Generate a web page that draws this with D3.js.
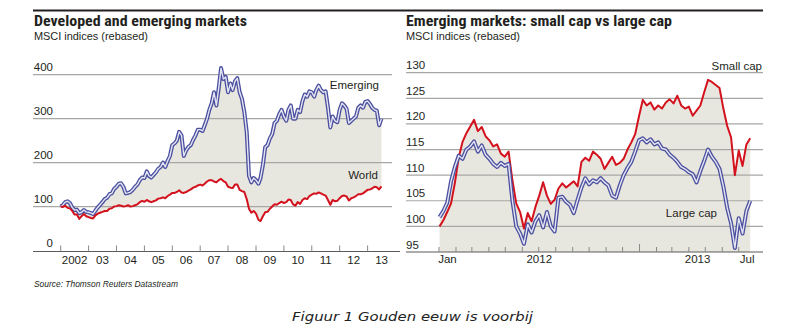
<!DOCTYPE html>
<html>
<head>
<meta charset="utf-8">
<script src="https://cdn.jsdelivr.net/npm/d3@7"></script>
<style>
  html, body { margin: 0; padding: 0; background: #ffffff; }
  svg { display: block; }
  text { fill: #231f20; }
</style>
</head>
<body>
<svg id="chart" width="794" height="329"></svg>
<script>
// ---------------- Left chart data (monthly, Jan 2002 - Jul 2013) ----------------
const leftStartYear = 2002;
const leftYearLabels = ["2002","03","04","05","06","07","08","09","10","11","12","13"];
const leftYTicks = [0, 100, 200, 300, 400];
const emerging = [
  100,104,110,112,108,98,92,93,85,87,92,88,
  87,85,83,91,98,104,110,117,120,128,130,140,
  145,152,153,145,130,131,133,138,145,150,160,166,
  165,180,170,166,172,178,186,190,200,190,204,215,
  240,244,250,270,262,215,228,236,240,252,262,275,
  275,272,285,300,320,335,360,330,370,415,390,395,
  360,380,365,385,392,360,345,315,270,170,155,165,
  160,152,165,195,235,240,255,265,290,295,310,320,
  305,295,320,330,300,300,320,315,340,355,350,362,
  360,350,365,375,365,360,362,325,280,305,295,292,
  320,335,330,322,290,295,300,305,325,330,325,338,
  340,333,325,320,318,285,300
];
const world = [
  100,99,102,97,96,90,82,82,72,78,83,78,
  76,74,73,80,84,86,88,90,90,95,96,100,
  101,103,102,100,101,103,100,101,103,105,110,113,
  111,115,112,110,112,114,118,119,121,119,124,127,
  131,131,133,137,132,131,133,136,139,143,145,148,
  150,148,152,157,160,160,157,155,160,163,158,155,
  145,143,142,150,150,138,135,133,117,95,86,90,
  84,70,67,78,87,88,95,100,105,104,108,111,
  108,110,116,115,105,102,110,106,115,119,117,124,
  127,130,129,132,130,127,125,115,104,115,112,113,
  119,124,125,123,114,119,121,124,128,128,130,134,
  138,139,141,145,144,139,146
];

// ---------------- Right chart data (weekly, from 2 Jan 2012) ----------------
const rightStart = "2012-01-02";
const rightYTicks = [95, 100, 105, 110, 115, 120, 125, 130];
const rightMonthLabels = [
  {label: "Jan", start: "2012-01-01", end: "2012-02-01"},
  {label: "2012", start: "2012-01-01", end: "2013-01-01"},
  {label: "2013", start: "2013-01-01", end: "2013-08-01"},
  {label: "Jul", start: "2013-07-01", end: "2013-08-01"}
];
const smallCap = [
  100.0,101.2,102.8,104.5,108.5,113.5,116.5,118.2,119.5,120.8,
  118.6,119.4,117.6,116.8,115.6,116.0,114.2,113.6,114.6,109.0,
  104.5,102.8,99.6,102.6,101.0,103.8,106.0,108.6,106.0,104.4,
  105.2,107.4,108.4,107.6,108.2,108.8,107.8,112.6,113.4,112.8,
  114.6,114.0,113.2,111.2,112.4,113.6,112.0,112.4,113.2,115.0,
  116.4,118.0,121.5,124.7,123.6,124.2,122.8,123.6,123.0,124.2,
  124.8,124.0,125.5,123.6,123.0,123.4,121.6,122.6,123.6,126.2,
  128.6,128.2,127.6,127.0,123.0,119.6,117.4,110.0,114.8,111.8,
  116.0,117.2
];
const largeCap = [
  101.8,103.0,104.6,108.8,111.6,113.8,113.2,115.0,115.6,116.6,
  114.6,115.8,114.0,113.2,112.2,111.6,112.4,111.8,112.2,105.0,
  100.0,98.6,96.6,100.4,98.8,101.0,102.2,99.8,102.8,100.0,
  99.0,105.6,105.8,104.8,104.2,102.6,105.2,107.6,109.4,108.2,
  109.0,108.6,109.4,108.6,108.0,106.0,105.6,108.0,110.0,111.4,
  112.6,114.6,116.8,117.2,116.4,117.0,116.0,116.4,115.2,115.0,
  114.0,113.4,112.6,111.6,111.2,110.6,110.2,108.6,110.8,112.8,
  115.0,113.6,112.6,111.2,107.8,103.6,100.6,95.8,101.6,98.6,
  103.0,105.0
];

// ---------------- Styles ----------------
const RED = "#d4121e";
const BLUE_OUT = "#4a4f9e";
const BLUE_IN = "#e4e4f4";
const FILL = "#e8e7df";
const GRID = "#a7a7a5";
const AXIS = "#5a5a5a";
const SANS = "'Liberation Sans', Arial, sans-serif";
const NARROW = "'Liberation Sans Narrow', 'Roboto Condensed', 'Liberation Sans', sans-serif";

const svg = d3.select("#chart");
const txt = (g, x, y, size, s) => g.append("text").attr("x", x).attr("y", y)
  .style("font-family", SANS).style("font-size", size + "px").text(s);

// top rule
svg.append("line").attr("x1", 33).attr("x2", 763).attr("y1", 10.5).attr("y2", 10.5)
  .attr("stroke", "#231f20").attr("stroke-width", 2);

// ================= LEFT CHART =================
const lDates = emerging.map((_, i) => new Date(leftStartYear, i, 1));
const lx = d3.scaleTime().domain([new Date(2002,0,1), new Date(2014,0,1)]).range([60.7, 395.5]);
const ly = d3.scaleLinear().domain([0, 400]).range([250.5, 74.7]);

const L = svg.append("g");
txt(L, 34, 26, 15, "Developed and emerging markets").style("font-weight", "bold")
  .style("font-family", NARROW)
  .attr("textLength", 213).attr("lengthAdjust", "spacingAndGlyphs");
txt(L, 34, 40, 11, "MSCI indices (rebased)")
  .attr("textLength", 114).attr("lengthAdjust", "spacingAndGlyphs");

// fill between
L.append("path").datum(d3.range(emerging.length))
  .attr("fill", FILL)
  .attr("d", d3.area().x(i => lx(lDates[i])).y0(i => ly(world[i])).y1(i => ly(emerging[i])));

// gridlines
leftYTicks.filter(v => v > 0).forEach(v => {
  L.append("line").attr("x1", 33).attr("x2", 392).attr("y1", ly(v)).attr("y2", ly(v))
    .attr("stroke", GRID).attr("stroke-width", 1.2);
});
leftYTicks.forEach(v => {
  txt(L, 53, ly(v) - 3.5, 11.5, v).attr("text-anchor", "end");
});
// baseline axis
L.append("line").attr("x1", 33).attr("x2", 400).attr("y1", ly(0) + 1).attr("y2", ly(0) + 1)
  .attr("stroke", AXIS).attr("stroke-width", 1.2);
const lYears = d3.range(2002, 2014);
lYears.forEach((yr, i) => {
  const x0 = lx(new Date(yr, 0, 1));
  L.append("line").attr("x1", x0).attr("x2", x0).attr("y1", ly(0) - 5).attr("y2", ly(0) + 1)
    .attr("stroke", "#888").attr("stroke-width", 1);
  const xm = (lx(new Date(yr, 0, 1)) + lx(new Date(yr + 1, 0, 1))) / 2;
  txt(L, xm, 264, 11.5, leftYearLabels[i]).attr("text-anchor", "middle");
});

const lineL = (arr) => d3.line().x((d, i) => lx(lDates[i])).y(d => ly(d))(arr);
L.append("path").attr("d", lineL(emerging)).attr("fill", "none").attr("stroke", BLUE_OUT)
  .attr("stroke-width", 4).attr("stroke-linejoin", "round");
L.append("path").attr("d", lineL(emerging)).attr("fill", "none").attr("stroke", BLUE_IN)
  .attr("stroke-width", 1.4).attr("stroke-linejoin", "round");
L.append("path").attr("d", lineL(world)).attr("fill", "none").attr("stroke", RED)
  .attr("stroke-width", 2).attr("stroke-linejoin", "round");

txt(L, 379, 89, 11.5, "Emerging").attr("text-anchor", "end");
txt(L, 378, 179, 11.5, "World").attr("text-anchor", "end");

txt(L, 34, 287, 9, "Source: Thomson Reuters Datastream").style("font-style", "italic")
  .attr("textLength", 144).attr("lengthAdjust", "spacingAndGlyphs");

// ================= RIGHT CHART =================
const parse = d3.timeParse("%Y-%m-%d");
const r0 = parse(rightStart);
const rDates = smallCap.map((_, i) => d3.timeWeek.offset(r0, i));
const rx = d3.scaleTime().domain([new Date(2012,0,1), new Date(2013,7,1)]).range([439, 755.7]);
const ry = d3.scaleLinear().domain([95, 130]).range([252, 72.7]);

const R = svg.append("g");
txt(R, 406, 26, 15, "Emerging markets: small cap vs large cap").style("font-weight", "bold")
  .style("font-family", NARROW)
  .attr("textLength", 266).attr("lengthAdjust", "spacingAndGlyphs");
txt(R, 406, 40, 11, "MSCI indices (rebased)")
  .attr("textLength", 114).attr("lengthAdjust", "spacingAndGlyphs");

R.append("path").datum(d3.range(smallCap.length))
  .attr("fill", FILL)
  .attr("d", d3.area().x(i => rx(rDates[i])).y0(ry(95)).y1(i => ry(Math.max(smallCap[i], largeCap[i]))));

rightYTicks.filter(v => v > 95).forEach(v => {
  R.append("line").attr("x1", 406).attr("x2", 763).attr("y1", ry(v)).attr("y2", ry(v))
    .attr("stroke", GRID).attr("stroke-width", 1.2);
});
rightYTicks.forEach(v => {
  txt(R, 406, ry(v) - 3.5, 11.5, v);
});
R.append("line").attr("x1", 406).attr("x2", 763).attr("y1", ry(95)).attr("y2", ry(95))
  .attr("stroke", AXIS).attr("stroke-width", 1.2);
d3.timeMonth.range(new Date(2012,0,1), new Date(2013,7,1)).forEach(d => {
  const x0 = rx(d);
  const tall = d.getMonth() === 0 && d.getFullYear() === 2013;
  R.append("line").attr("x1", x0).attr("x2", x0).attr("y1", ry(95) - (tall ? 8 : 5)).attr("y2", ry(95))
    .attr("stroke", "#888").attr("stroke-width", 1);
});
rightMonthLabels.forEach(m => {
  const xm = (rx(parse(m.start)) + rx(parse(m.end))) / 2;
  txt(R, xm, 263, 11.5, m.label).attr("text-anchor", "middle");
});

const lineR = (arr) => d3.line().x((d, i) => rx(rDates[i])).y(d => ry(d))(arr);
R.append("path").attr("d", lineR(smallCap)).attr("fill", "none").attr("stroke", RED)
  .attr("stroke-width", 2).attr("stroke-linejoin", "round");
R.append("path").attr("d", lineR(largeCap)).attr("fill", "none").attr("stroke", BLUE_OUT)
  .attr("stroke-width", 4).attr("stroke-linejoin", "round");
R.append("path").attr("d", lineR(largeCap)).attr("fill", "none").attr("stroke", BLUE_IN)
  .attr("stroke-width", 1.4).attr("stroke-linejoin", "round");

txt(R, 762, 70, 11.5, "Small cap").attr("text-anchor", "end");
txt(R, 717, 217, 11.5, "Large cap").attr("text-anchor", "end");

// caption
svg.append("text").attr("x", 292).attr("y", 321)
  .style("font-family", "'DejaVu Sans', Verdana, sans-serif").style("font-style", "italic")
  .style("font-size", "13px").style("fill", "#222")
  .attr("textLength", 241).attr("lengthAdjust", "spacingAndGlyphs")
  .text("Figuur 1 Gouden eeuw is voorbij");
</script>
</body>
</html>
